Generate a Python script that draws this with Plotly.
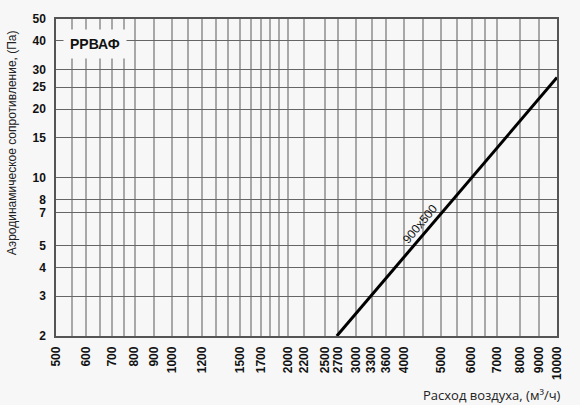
import math
import plotly.graph_objects as go

# ---- data ----
flow = [2680, 10000]          # m3/h
pressure = [2.0, 27.6]        # Pa
series_name = "900x500"

x_grid = [500, 550, 600, 650, 700, 750, 800, 900, 1000, 1100, 1200, 1300, 1400,
          1500, 1600, 1700, 1800, 1900, 2000, 2200, 2500, 2700, 3000, 3300, 3600,
          4000, 4500, 5000, 5500, 6000, 6500, 7000, 8000, 9000, 10000]
x_labels = [500, 600, 700, 800, 900, 1000, 1200, 1500, 1700, 2000, 2200, 2500,
            2700, 3000, 3300, 3600, 4000, 5000, 6000, 7000, 8000, 9000, 10000]
y_ticks = [2, 3, 4, 5, 7, 8, 10, 15, 20, 25, 30, 40, 50]

title_text = "РРВАФ"
x_title = "Расход воздуха, (м³/ч)"
y_title = "Аэродинамическое сопротивление, (Па)"

BG = "#f7f7f7"

fig = go.Figure()
fig.add_trace(go.Scatter(x=flow, y=pressure, mode="lines",
                         line=dict(color="black", width=3),
                         name=series_name, showlegend=False, hoverinfo="skip"))

# label position: along line (geometric interpolation)
t = 0.41
lx = math.log10(flow[0]) + t * (math.log10(flow[1]) - math.log10(flow[0]))
ly = math.log10(pressure[0]) + t * (math.log10(pressure[1]) - math.log10(pressure[0]))
fig.add_annotation(x=lx, y=ly, xref="x", yref="y", text=series_name,
                   showarrow=False, textangle=-50, xshift=-7, yshift=6,
                   xanchor="center", yanchor="middle",
                   font=dict(family="Liberation Sans, Arial", size=12, color="#111"))

fig.add_annotation(x=0.014, y=0.921, xref="paper", yref="paper", text=title_text,
                   showarrow=False, bgcolor=BG, borderpad=6,
                   xanchor="left", yanchor="middle",
                   font=dict(family="Liberation Sans, Arial", size=14, color="#111", weight="bold"))

fig.add_annotation(x=-0.088, y=0.611, xref="paper", yref="paper", text=y_title,
                   showarrow=False, textangle=-90, xanchor="center", yanchor="middle",
                   font=dict(family="Liberation Sans, Arial", size=12, color="#222"))

fig.add_annotation(x=1.012, y=-0.185, xref="paper", yref="paper", text=x_title,
                   showarrow=False, xanchor="right", yanchor="middle",
                   font=dict(family="Open Sans", size=13, color="#222"))

fig.update_xaxes(type="log", range=[math.log10(500), math.log10(10000)],
                 tickmode="array", tickvals=x_grid,
                 ticktext=[str(v) if v in x_labels else "" for v in x_grid],
                 tickangle=-90, ticks="", ticklen=0, ticklabelstandoff=4,
                 tickfont=dict(family="Liberation Sans, Arial", size=12, color="#111", weight="bold"),
                 showgrid=True, gridcolor="#a8a8a8", gridwidth=1.5,
                 showline=True, linecolor="#555", linewidth=1.5, mirror=True,
                 zeroline=False)
fig.update_yaxes(type="log", range=[math.log10(2), math.log10(50)],
                 tickmode="array", tickvals=y_ticks,
                 ticktext=[str(v) for v in y_ticks],
                 ticks="", ticklen=0, ticklabelstandoff=6,
                 tickfont=dict(family="Liberation Sans, Arial", size=12, color="#111", weight="bold"),
                 showgrid=True, gridcolor="#666", gridwidth=1,
                 showline=True, linecolor="#555", linewidth=1.5, mirror=True,
                 zeroline=False)

fig.update_layout(width=580, height=405,
                  margin=dict(l=56, r=23, t=17, b=69),
                  paper_bgcolor=BG, plot_bgcolor=BG,
                  showlegend=False)

# remove the browser's default 8px page margin so the figure fills the window
fig.write_html("out.html", config={"displayModeBar": False},
               post_script="document.body.style.margin='0';document.body.style.background='%s';" % BG)
